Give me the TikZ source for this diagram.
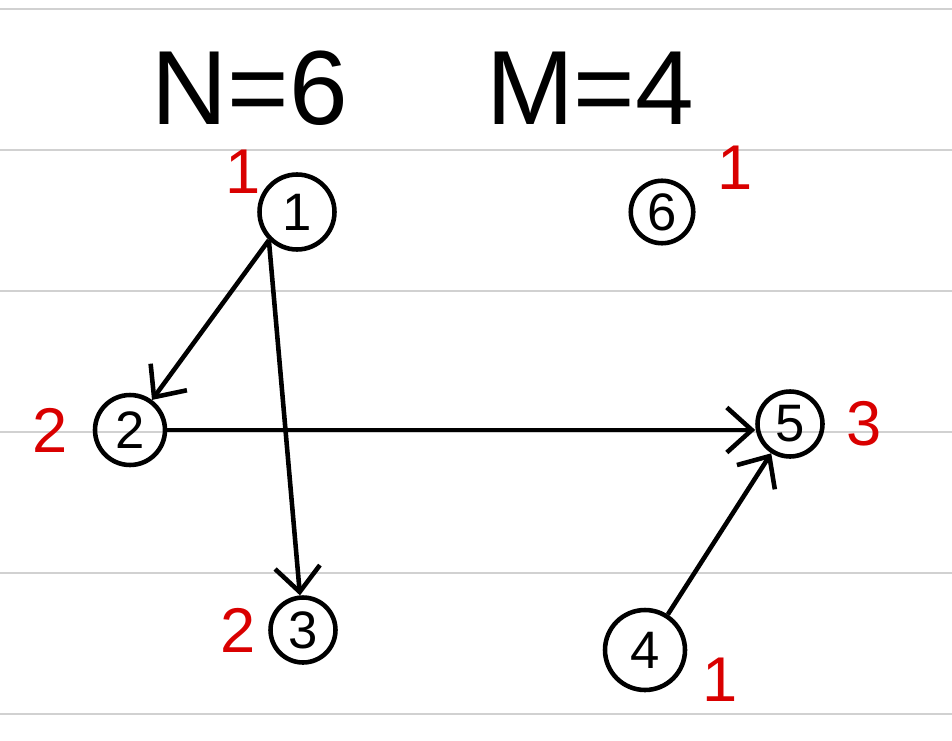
\documentclass[tikz,border=0pt]{standalone}
\usepackage{fontspec}
\setmainfont{Liberation Sans}
\usetikzlibrary{arrows.meta,positioning}

\tikzset{
  vertex/.style={draw, circle, line width=2.6pt, inner sep=0pt, minimum size=1.4cm, font=\fontsize{30}{34}\selectfont},
  degree/.style={text=red!85!black, inner sep=1pt, font=\fontsize{36}{40}\selectfont},
  edge/.style={line width=2.6pt, -{Straight Barb[length=5mm,width=9mm,line width=2.6pt]}},
  rule/.style={line width=1.6pt, draw=black!18}
}

\begin{document}
\begin{tikzpicture}[x=0.02cm, y=-0.02cm]
\useasboundingbox (0,0) rectangle (952,740);

% ruled paper
\foreach \ry in {9,150,291,432,573,714}
  \draw[rule] (0,\ry) -- (952,\ry);

\node[inner sep=0pt, font=\fontsize{60}{66}\selectfont] (nlabel) at (250,88) {N=6};
\node[inner sep=0pt, font=\fontsize{60}{66}\selectfont] (mlabel) at (590,88) {M=4};

\node[vertex, minimum size=1.5cm] (n1) at (297,212) {1};
\node[vertex, minimum size=1.25cm] (n6) at (662,212) {6};
\node[vertex] (n2) at (130,430) {2};
\node[vertex, minimum size=1.3cm] (n5) at (790,424) {5};
\node[vertex, minimum size=1.3cm] (n3) at (303,630) {3};
\node[vertex, minimum size=1.6cm] (n4) at (645,650) {4};

\node[degree] (d1) at (243,172) {1};
\node[degree] (d6) at (735,168) {1};
\node[degree, left=0.45cm of n2] (d2) {2};
\node[degree, right=0.4cm of n5] (d5) {3};
\node[degree, left=0.2cm of n3] (d3) {2};
\node[degree] (d4) at (720,680) {1};

\draw[edge] (n1.225) -- (n2);
\draw[edge] (n1.225) -- (n3);
\draw[edge] (n2.east) -- (n2.east -| n5.west);
\draw[edge] (n4) -- (n5);

\end{tikzpicture}
\end{document}
